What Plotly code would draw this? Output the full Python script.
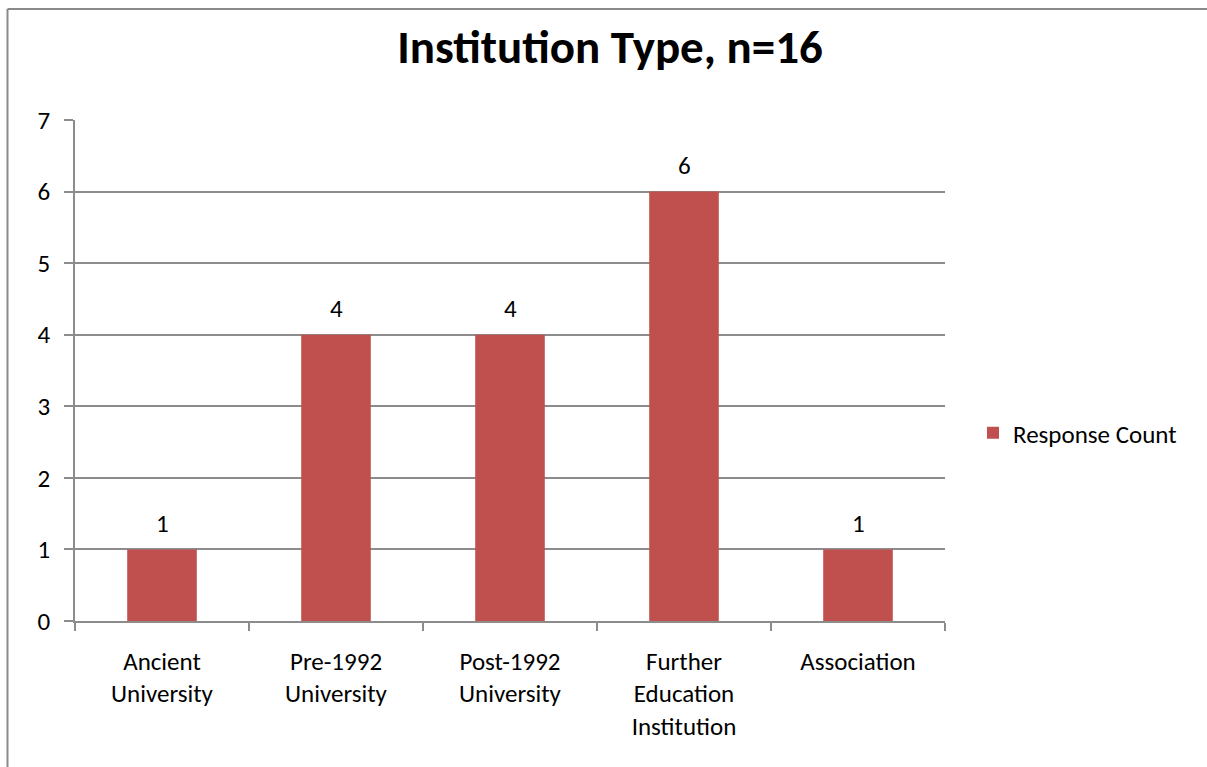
import plotly.graph_objects as go

categories = ["Ancient<br>University", "Pre-1992<br>University", "Post-1992<br>University",
              "Further<br>Education<br>Institution", "Association"]
response_count = [1, 4, 4, 6, 1]
y_ticks = [0, 1, 2, 3, 4, 5, 6, 7]
series_name = "Response Count"
title_text = "Institution Type, n=16"

W, H = 1207, 767
L, R, T, B = 75, W - 945, 120, H - 621
pw, ph = W - L - R, H - T - B

FONT = "Carlito, Lato, sans-serif"
GRID = "#8c8c8c"
BAR = "#C0504D"
FS = 25

fig = go.Figure()
fig.add_trace(go.Bar(
    x=categories, y=response_count, name=series_name,
    marker=dict(color=BAR, line=dict(width=0)),
    showlegend=True,
))

for c, v in zip(categories, response_count):
    fig.add_annotation(x=c, y=v, text=str(v), showarrow=False, yshift=26,
                       font=dict(family=FONT, size=FS, color="black"))

def px(xp):
    return (xp - L) / pw

def py(yp):
    return (H - B - yp) / ph

# chart outer border (top and left visible)
fig.add_shape(type="line", xref="paper", yref="paper",
              x0=px(7.5), x1=px(W + 5), y0=py(9), y1=py(9),
              line=dict(color="#8a8a8a", width=2))
fig.add_shape(type="line", xref="paper", yref="paper",
              x0=px(7.5), x1=px(7.5), y0=py(9), y1=py(H + 5),
              line=dict(color="#8a8a8a", width=2))

fig.update_layout(
    width=W, height=H,
    margin=dict(l=L, r=R, t=T, b=B, autoexpand=False),
    paper_bgcolor="white", plot_bgcolor="white",
    bargap=0.6,
    title=dict(text="<b>" + title_text + "</b>", x=610 / W, xanchor="center",
               y=1 - 47 / H, yanchor="middle", yref="container",
               font=dict(family=FONT, size=47, color="black")),
    legend=dict(x=px(973), xanchor="left", y=py(433), yanchor="middle",
                font=dict(family=FONT, size=FS, color="black"),
                bgcolor="rgba(0,0,0,0)", itemclick=False),
    font=dict(family=FONT, color="black"),
    xaxis=dict(
        showline=True, linecolor=GRID, linewidth=1.5,
        ticks="outside", tickson="boundaries", ticklen=8, tickcolor=GRID, tickwidth=1.5,
        tickfont=dict(family=FONT, size=FS, color="black"),
        showgrid=False, zeroline=False, fixedrange=True, ticklabelstandoff=17,
    ),
    yaxis=dict(
        range=[0, 7], tickvals=y_ticks,
        showline=True, linecolor=GRID, linewidth=1.5,
        ticks="outside", ticklen=9, tickcolor=GRID, tickwidth=1.5,
        tickfont=dict(family=FONT, size=FS, color="black"),
        showgrid=True, gridcolor=GRID, gridwidth=1.5,
        zeroline=False, ticklabelstandoff=9, fixedrange=True,
    ),
)

fig.write_html("out.html", config={"displayModeBar": False},
               post_script="document.body.style.margin='0';")
